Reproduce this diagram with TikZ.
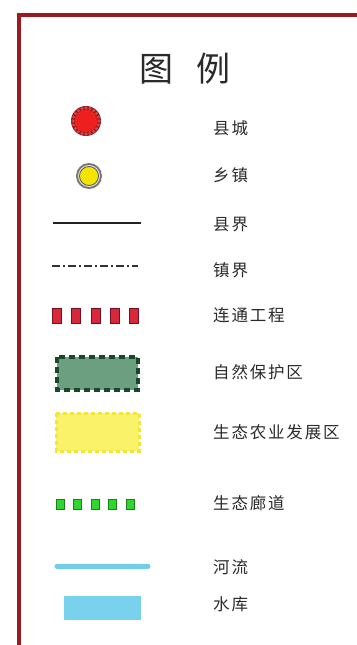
\documentclass[tikz,border=0pt]{standalone}
\usepackage{fontspec}
\newfontfamily\cjk{Noto Sans CJK SC}
\definecolor{frame}{HTML}{9A1C22}
\definecolor{txt}{HTML}{2A2A2A}
\definecolor{seaedge}{RGB}{150,22,26}
\definecolor{seabead}{RGB}{205,70,70}
\definecolor{seared}{RGB}{236,32,30}
\definecolor{twngray}{RGB}{120,120,120}
\definecolor{twnlight}{RGB}{225,225,225}
\definecolor{twnyel}{RGB}{245,228,0}
\definecolor{twnline}{RGB}{90,90,90}
\definecolor{cline}{RGB}{34,34,34}
\definecolor{tline}{RGB}{50,50,50}
\definecolor{blkred}{RGB}{214,40,58}
\definecolor{blkredd}{RGB}{120,14,30}
\definecolor{blkgrn}{RGB}{46,214,46}
\definecolor{blkgrnd}{RGB}{24,130,24}
\definecolor{resfill}{RGB}{108,159,127}
\definecolor{resedge}{RGB}{26,72,38}
\definecolor{agrfill}{RGB}{250,243,106}
\definecolor{agredge}{RGB}{240,230,60}
\definecolor{river}{RGB}{114,205,232}
\definecolor{reserv}{RGB}{120,210,238}
\begin{document}
\begin{tikzpicture}[x=1pt,y=-1pt,
  lbl/.style={anchor=west, inner sep=0pt, text=txt, font=\cjk\addfontfeature{LetterSpace=11}\fontsize{16.5}{18}\selectfont},
  ttl/.style={inner sep=0pt, text=txt, font=\cjk\fontsize{34}{36}\selectfont},
  redblock/.style={fill=blkred, draw=blkredd, line width=0.8pt},
  greenblock/.style={fill=blkgrn, draw=blkgrnd, line width=0.8pt}]
\useasboundingbox (0,0) rectangle (356,645);
\fill[white] (0,0) rectangle (356,645);
% frame
\draw[frame, line width=4pt, line join=miter] (19,647) -- (19,15) -- (358,15);
% title
\node[ttl] (t1) at (156,69) {图};
\node[ttl] (t2) at (213,69) {例};
% county seat
\fill[seaedge] (86,121) circle (15);
\foreach \a in {0,18,...,342} \fill[seabead] (86,121) ++(\a:13) circle (1.8);
\fill[seared] (86,121) circle (11.5);
\node[lbl] (l1) at (213,128) {县城};
% township
\fill[twngray] (89,176) circle (13);
\fill[twnlight] (89,176) circle (11);
\filldraw[fill=twnyel, draw=twnline, line width=0.8pt] (89,176) circle (9.5);
\node[lbl] (l2) at (213,175) {乡镇};
% county border
\coordinate (c1) at (53,223); \coordinate (c2) at (141,223);
\draw[line width=2.8pt, cline] (c1) -- (c2);
\node[lbl] (l3) at (213,225) {县界};
% town border
\coordinate (d1) at (52,266); \coordinate (d2) at (138,266);
\draw[line width=2.4pt, tline, dash pattern=on 8pt off 3pt on 2pt off 3pt] (d1) -- (d2);
\node[lbl] (l4) at (213,270) {镇界};
% connection works
\foreach \i in {0,...,4} \draw[redblock] ({52.7+\i*19.1},308) rectangle ++(9,15);
\node[lbl] (l5) at (213,315) {连通工程};
% nature reserve
\draw[fill=resfill, draw=resedge, line width=3.6pt, dash pattern=on 6pt off 4pt] (57,357) rectangle (138,390);
\node[lbl] (l6) at (213,372) {自然保护区};
% eco agriculture
\fill[agrfill] (56,413) rectangle (139,451);
\draw[agredge, line width=3pt, dash pattern=on 4pt off 3pt] (56,413) rectangle (139,451);
\node[lbl] (l7) at (213,432) {生态农业发展区};
% eco corridor
\foreach \i in {0,...,4} \draw[greenblock] ({56+\i*17.6},499) rectangle ++(8,10);
\node[lbl] (l8) at (213,503) {生态廊道};
% river
\coordinate (r1) at (57,566); \coordinate (r2) at (148,566);
\draw[line width=5pt, line cap=round, river] (r1) -- (r2);
\node[lbl] (l9) at (213,567) {河流};
% reservoir
\fill[reserv] (64,596) rectangle (141,620);
\node[lbl] (l10) at (213,604) {水库};
\end{tikzpicture}
\end{document}
